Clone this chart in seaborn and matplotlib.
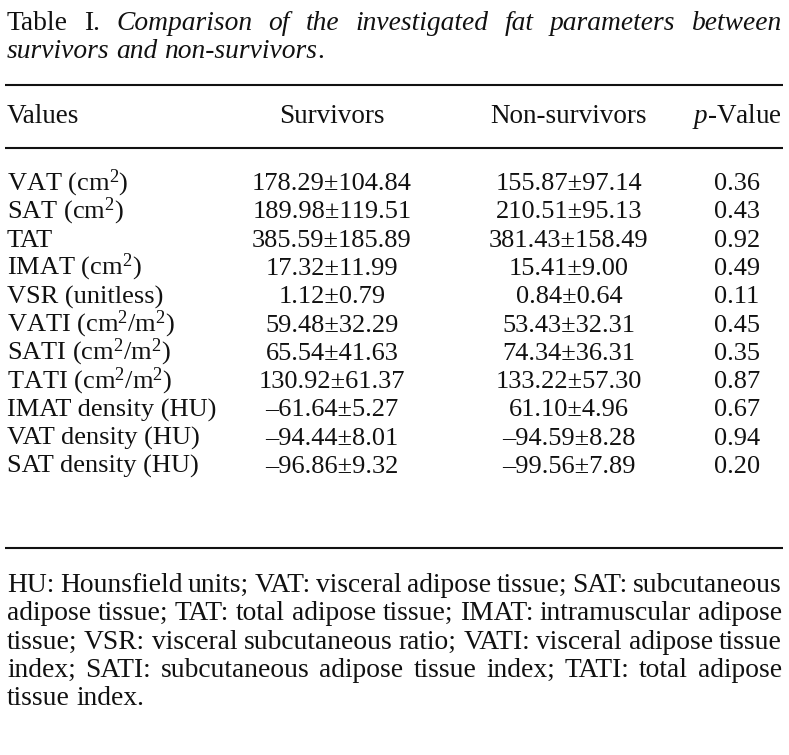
import matplotlib
matplotlib.use("Agg")
import matplotlib.pyplot as plt
import seaborn as sns

# Данные таблицы
params = ["VAT (cm$^2$)", "SAT (cm$^2$)", "TAT", "IMAT (cm$^2$)", "VSR (unitless)",
          "VATI (cm$^2$/m$^2$)", "SATI (cm$^2$/m$^2$)", "TATI (cm$^2$/m$^2$)",
          "IMAT density (HU)", "VAT density (HU)", "SAT density (HU)"]
surv_mean = [178.29, 189.98, 385.59, 17.32, 1.12, 59.48, 65.54, 130.92, -61.64, -94.44, -96.86]
surv_sd = [104.84, 119.51, 185.89, 11.99, 0.79, 32.29, 41.63, 61.37, 5.27, 8.01, 9.32]
nonsurv_mean = [155.87, 210.51, 381.43, 15.41, 0.84, 53.43, 74.34, 133.22, 61.10, -94.59, -99.56]
nonsurv_sd = [97.14, 95.13, 158.49, 9.00, 0.64, 32.31, 36.31, 57.30, 4.96, 8.28, 7.89]
p_values = [0.36, 0.43, 0.92, 0.49, 0.11, 0.45, 0.35, 0.87, 0.67, 0.94, 0.20]

headers = ["Values", "Survivors", "Non-survivors", "$p$-Value"]

title_lines = [
    [("Table", "normal"), ("I.", "normal"), ("Comparison", "italic"), ("of", "italic"),
     ("the", "italic"), ("investigated", "italic"), ("fat", "italic"),
     ("parameters", "italic"), ("between", "italic")],
    [("survivors", "italic"), ("and", "italic"), ("non-survivors", "italic")],
]

footnote_lines = [
    "HU: Hounsfield units; VAT: visceral adipose tissue; SAT: subcutaneous",
    "adipose tissue; TAT: total adipose tissue; IMAT: intramuscular adipose",
    "tissue; VSR: visceral subcutaneous ratio; VATI: visceral adipose tissue",
    "index; SATI: subcutaneous adipose tissue index; TATI: total adipose",
    "tissue index.",
]


def fmt(m, s):
    return f"{m:.2f}±{s:.2f}".replace("-", "–")


sns.set_theme(style="white")
plt.rcParams["font.family"] = ["Liberation Serif", "DejaVu Serif"]
plt.rcParams["mathtext.fontset"] = "custom"
plt.rcParams["mathtext.rm"] = "Liberation Serif"
plt.rcParams["mathtext.it"] = "Liberation Serif:italic"

FS = 19.8      # заголовок и примечание
FS_T = 19      # таблица
W, H = 789, 755
fig = plt.figure(figsize=(W / 100, H / 100), dpi=100)
ax = fig.add_axes([0, 0, 1, 1])
ax.set_xlim(0, W)
ax.set_ylim(H, 0)
ax.axis("off")
renderer = fig.canvas.get_renderer()

X0, X1 = 7, 782
SPACE = 6.5


def place_words(words, y, justify):
    texts = [ax.text(0, y, w, fontstyle=st, fontsize=FS, va="baseline", color="#111")
             for w, st in words]
    widths = [t.get_window_extent(renderer).width for t in texts]
    gap = (X1 - X0 - sum(widths)) / (len(texts) - 1) if justify else SPACE
    x = X0
    for t, w in zip(texts, widths):
        t.set_x(x)
        x += w + gap
    return x - gap


# Заголовок
place_words(title_lines[0], 30, True)
end = place_words(title_lines[1], 58, False)
ax.text(end, 58, ".", fontsize=FS, va="baseline", color="#111")

# Линейки
for y in [85, 148, 548]:
    ax.hlines(y, 5, 783, color="#111", lw=1.5)

# Шапка
col_x = [7, 332, 569, 737]
ha = ["left", "center", "center", "center"]
for x, h, a in zip(col_x, headers, ha):
    ax.text(x, 123, h, ha=a, va="baseline", fontsize=FS_T + 0.5, color="#111")

# Строки
y0, step = 190, 28.3
for i in range(len(params)):
    y = y0 + i * step
    row = [params[i], fmt(surv_mean[i], surv_sd[i]), fmt(nonsurv_mean[i], nonsurv_sd[i]),
           f"{p_values[i]:.2f}"]
    for x, s, a in zip(col_x, row, ha):
        ax.text(x, y, s, ha=a, va="baseline", fontsize=FS_T, color="#111")

# Примечание
fy0 = 592
for i, line in enumerate(footnote_lines):
    words = [(w, "normal") for w in line.split()]
    place_words(words, fy0 + i * step, i < len(footnote_lines) - 1)

fig.savefig("out.png", dpi=100)
